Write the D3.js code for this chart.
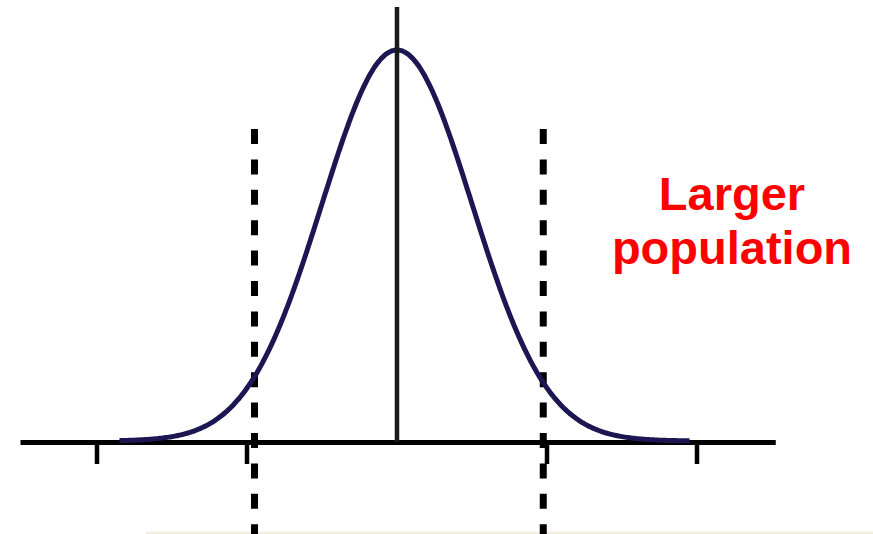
<!DOCTYPE html>
<html>
<head>
<meta charset="utf-8">
<script src="https://cdn.jsdelivr.net/npm/d3@7"></script>
<style>
  html, body { margin: 0; padding: 0; background: #ffffff; }
  svg { display: block; }
</style>
</head>
<body>
<svg id="chart" width="873" height="534"></svg>
<script>
// Sampling distribution shown in standard units
const mean = 0;
const sd = 1;
const curveRange = [-3.7, 3.9];      // extent of the drawn bell curve
const axisRange = [-5.02, 5.05];     // extent of the horizontal axis
const tickValues = [-4, -2, 2, 4];   // short marks below the axis
const cutoffs = [-1.9, 1.95];        // dashed critical lines
const labelLines = ["Larger", "population"];

const svg = d3.select("#chart");

const x = d3.scaleLinear().domain([-1, 1]).range([322, 472]);
const y = d3.scaleLinear().domain([0, 0.39894]).range([441, 50]);

const pdf = z => Math.exp(-0.5 * ((z - mean) / sd) ** 2) / (sd * Math.sqrt(2 * Math.PI));

// faint rule along the bottom edge
svg.append("line")
  .attr("x1", 146).attr("x2", 873)
  .attr("y1", 533).attr("y2", 533)
  .attr("stroke", "#f1eedf").attr("stroke-width", 3);

// dashed cut-off lines
svg.selectAll("line.cut").data(cutoffs).join("line")
  .attr("class", "cut")
  .attr("x1", d => x(d)).attr("x2", d => x(d))
  .attr("y1", 129).attr("y2", 540)
  .attr("stroke", "#000").attr("stroke-width", 7)
  .attr("stroke-dasharray", "15 15.4");

// horizontal axis
svg.append("line")
  .attr("x1", x(axisRange[0])).attr("x2", x(axisRange[1]))
  .attr("y1", 442.5).attr("y2", 442.5)
  .attr("stroke", "#000").attr("stroke-width", 5);

// tick marks
svg.selectAll("line.tick").data(tickValues).join("line")
  .attr("class", "tick")
  .attr("x1", d => x(d)).attr("x2", d => x(d))
  .attr("y1", 442).attr("y2", 464)
  .attr("stroke", "#000").attr("stroke-width", 4.5);

// bell curve
const zs = d3.range(curveRange[0], curveRange[1] + 1e-9, 0.02);
const line = d3.line().x(d => x(d)).y(d => y(pdf(d))).curve(d3.curveBasis);
svg.append("path")
  .datum(zs)
  .attr("d", line)
  .attr("fill", "none")
  .attr("stroke", "#1c1752")
  .attr("stroke-width", 5)
  .attr("stroke-linejoin", "round");

// centre line at the mean
svg.append("line")
  .attr("x1", x(mean)).attr("x2", x(mean))
  .attr("y1", 7).attr("y2", 442)
  .attr("stroke", "#1a1a1a").attr("stroke-width", 4.5);

// label
const label = svg.append("text")
  .attr("x", 732)
  .attr("text-anchor", "middle")
  .attr("fill", "#ff0000")
  .attr("font-family", "'Liberation Sans', Arial, sans-serif")
  .attr("font-weight", "bold")
  .attr("font-size", 47);
label.selectAll("tspan").data(labelLines).join("tspan")
  .attr("x", 732)
  .attr("y", (d, i) => 210 + i * 54)
  .text(d => d);
</script>
</body>
</html>
